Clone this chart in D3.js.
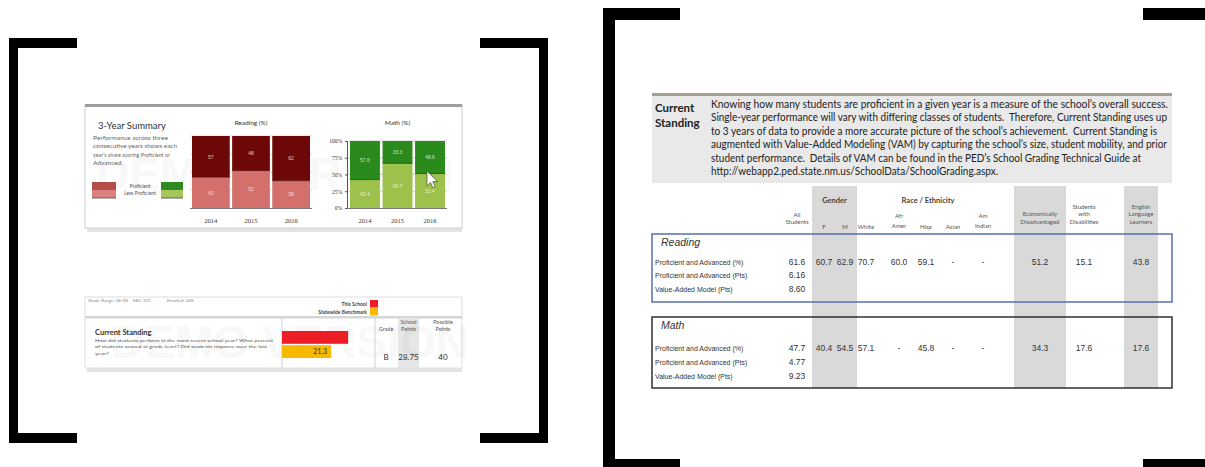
<!DOCTYPE html>
<html><head><meta charset="utf-8">
<script src="https://cdn.jsdelivr.net/npm/d3@7/dist/d3.min.js"></script>
<style>html,body{margin:0;padding:0;background:#fff;overflow:hidden}svg{display:block}</style>
</head><body>
<svg id="c" width="1205" height="467"></svg>
<script>
// ---- values ----
const years = ["2014", "2015", "2016"];
const readingProficient = [57, 48, 62];
const readingLessProficient = [43, 52, 38];
const mathProficient = [57.6, 33.3, 48.6];
const mathLessProficient = [42.4, 66.7, 51.4];
const mathTicks = [0, 25, 50, 75, 100];

const standingSeries = ["This School", "Statewide Benchmark"];
const standingPoints = [28.75, 21.3];
const standingGrade = "B";
const possiblePoints = 40;

const groupKeys = ["F", "M", "White", "AfrAmer", "Hisp", "Asian", "AmIndian", "EconDis", "SWD", "ELL"];
const groupHeaders = [["F"], ["M"], ["White"], ["Afr", "Amer"], ["Hisp"], ["Asian"], ["Am", "Indian"],
  ["Economically", "Disadvantaged"], ["Students", "with", "Disabilities"], ["English", "Language", "Learners"]];
const rowLabels = ["Proficient and Advanced (%)", "Proficient and Advanced (Pts)", "Value-Added Model (Pts)"];
const readingAllStudents = ["61.6", "6.16", "8.60"];
const readingByGroup = ["60.7", "62.9", "70.7", "60.0", "59.1", "-", "-", "51.2", "15.1", "43.8"];
const mathAllStudents = ["47.7", "4.77", "9.23"];
const mathByGroup = ["40.4", "54.5", "57.1", "-", "45.8", "-", "-", "34.3", "17.6", "17.6"];

const introLines = [
  "Knowing how many students are proficient in a given year is a measure of the school\u2019s overall success.",
  "Single-year performance will vary with differing classes of students.  Therefore, Current Standing uses up",
  "to 3 years of data to provide a more accurate picture of the school\u2019s achievement.  Current Standing is",
  "augmented with Value-Added Modeling (VAM) by capturing the school\u2019s size, student mobility, and prior",
  "student performance.  Details of VAM can be found in the PED\u2019s School Grading Technical Guide at",
  "http://webapp2.ped.state.nm.us/SchoolData/SchoolGrading.aspx."
];

const svg = d3.select("#c");
const SANS = "Lato, 'Open Sans', sans-serif";
const ARIAL = "'Liberation Sans', Arial, sans-serif";
const SERIF = "'Liberation Serif', serif";

// ---- frame brackets ----
const frame = svg.append("g").attr("fill", "#000");
[[9, 38, 9, 405], [9, 38, 68, 10], [9, 433, 68, 10],
 [539, 38, 9, 405], [480, 38, 68, 10], [480, 433, 68, 10],
 [603, 8, 12, 459], [603, 8, 77, 12], [603, 459, 77, 8],
 [1143, 8, 62, 12], [1143, 459, 62, 8]].forEach(([x, y, w, h]) =>
  frame.append("rect").attr("x", x).attr("y", y).attr("width", w).attr("height", h));

// ---- left: 3-year summary card ----
const card1 = svg.append("g");
card1.append("rect").attr("x", 87).attr("y", 228).attr("width", 375).attr("height", 4).attr("fill", "#e4e4e4");
card1.append("rect").attr("x", 85).attr("y", 105).attr("width", 377).attr("height", 123)
  .attr("fill", "#fff").attr("stroke", "#cdcdcd").attr("stroke-width", 1);
card1.append("rect").attr("x", 85).attr("y", 104).attr("width", 377).attr("height", 3).attr("fill", "#9c9c9c");
card1.append("text").attr("x", 275).attr("y", 190).attr("text-anchor", "middle")
  .attr("font-family", ARIAL).attr("font-weight", "bold").attr("font-size", 46)
  .attr("fill", "#000").attr("opacity", 0.022).text("DEMO VERSION");

card1.append("text").attr("x", 132).attr("y", 129).attr("text-anchor", "middle")
  .attr("font-family", SANS).attr("font-size", 9.5).attr("fill", "#333").text("3-Year Summary");
const summaryNote = ["Performance across three", "consecutive years shows each", "year\u2019s share scoring Proficient or", "Advanced."];
const noteW = [75, 84, 77, 30];
summaryNote.forEach((t, i) => card1.append("text").attr("x", 93).attr("y", 140 + i * 8.3)
  .attr("font-family", SANS).attr("font-size", 6).attr("fill", "#666")
  .attr("textLength", noteW[i]).attr("lengthAdjust", "spacingAndGlyphs").text(t));

// legend swatches
const lg = card1.append("g");
lg.append("rect").attr("x", 92).attr("y", 182).attr("width", 24).attr("height", 8).attr("fill", "#b44c4c");
lg.append("rect").attr("x", 92).attr("y", 190).attr("width", 24).attr("height", 8).attr("fill", "#dd8080");
lg.append("rect").attr("x", 161).attr("y", 182).attr("width", 22).attr("height", 8).attr("fill", "#2e8b22");
lg.append("rect").attr("x", 161).attr("y", 190).attr("width", 22).attr("height", 8).attr("fill", "#a4c65a");
lg.append("line").attr("x1", 161).attr("x2", 183).attr("y1", 198).attr("y2", 198).attr("stroke", "#444").attr("stroke-width", 0.8);
lg.append("line").attr("x1", 92).attr("x2", 116).attr("y1", 198).attr("y2", 198).attr("stroke", "#444").attr("stroke-width", 0.8);
lg.append("text").attr("x", 140).attr("y", 187.5).attr("text-anchor", "middle").attr("font-family", SANS)
  .attr("font-size", 5).attr("fill", "#555").text("Proficient");
lg.append("text").attr("x", 140).attr("y", 194.5).attr("text-anchor", "middle").attr("font-family", SANS)
  .attr("font-size", 5).attr("fill", "#555").text("Less Proficient");

function stackedChart(g, opts) {
  const rows = years.map((yr, i) => ({ year: yr, less: opts.less[i], prof: opts.prof[i] }));
  const series = d3.stack().keys(["less", "prof"])(rows);
  const x = d3.scaleBand().domain(years).range(opts.xr).paddingInner(opts.pad);
  const y = d3.scaleLinear().domain([0, 100]).range(opts.yr);
  // gridlines
  g.append("g").selectAll("line").data([25, 50, 75, 100]).join("line")
    .attr("x1", opts.xr[0] - 2).attr("x2", opts.xr[1] + 2)
    .attr("y1", d => y(d)).attr("y2", d => y(d)).attr("stroke", opts.grid).attr("stroke-width", 0.7);
  const colors = { less: opts.light, prof: opts.dark };
  series.forEach(s => {
    g.append("g").selectAll("rect").data(s).join("rect")
      .attr("x", d => x(d.data.year)).attr("width", x.bandwidth())
      .attr("y", d => y(d[1])).attr("height", d => y(d[0]) - y(d[1]))
      .attr("fill", colors[s.key]);
    g.append("g").selectAll("text").data(s).join("text")
      .attr("x", d => x(d.data.year) + x.bandwidth() / 2)
      .attr("y", d => (y(d[0]) + y(d[1])) / 2 + 2)
      .attr("text-anchor", "middle").attr("font-family", ARIAL).attr("font-size", 5)
      .attr("fill", "#fff").attr("opacity", 0.75)
      .text(d => opts.fmt(d.data[s.key]));
  });
  // split lines
  g.append("g").selectAll("line").data(series[0]).join("line")
    .attr("x1", d => x(d.data.year)).attr("x2", d => x(d.data.year) + x.bandwidth())
    .attr("y1", d => y(d[1])).attr("y2", d => y(d[1])).attr("stroke", opts.split).attr("stroke-width", 0.8);
  g.append("line").attr("x1", opts.xr[0] - 2).attr("x2", opts.xr[1] + 2)
    .attr("y1", y(0) + 0.5).attr("y2", y(0) + 0.5).attr("stroke", "#555").attr("stroke-width", 0.8);
  g.append("g").attr("transform", `translate(0,${y(0) + 2})`)
    .call(d3.axisBottom(x).tickSize(0).tickPadding(8))
    .call(a => a.select(".domain").remove())
    .selectAll("text").attr("font-family", SERIF).attr("font-size", 6.5).attr("fill", "#333");
  g.append("text").attr("x", (opts.xr[0] + opts.xr[1]) / 2).attr("y", 125).attr("text-anchor", "middle")
    .attr("font-family", SANS).attr("font-size", 6.5).attr("fill", "#333").text(opts.title);
  return y;
}

stackedChart(card1.append("g"), {
  prof: readingProficient, less: readingLessProficient, xr: [192, 310], yr: [208, 136], pad: 0.06,
  dark: "#6e0808", light: "#d4706c", split: "#5a0a0a", grid: "#c8c8c8", title: "Reading (%)", fmt: d3.format("d")
});
const mathG = card1.append("g");
const my = stackedChart(mathG, {
  prof: mathProficient, less: mathLessProficient, xr: [350, 445], yr: [208, 141], pad: 0.08,
  dark: "#2a8a1c", light: "#9dc24b", split: "#1c4a10", grid: "#b8b8b8", title: "Math (%)", fmt: d3.format(".1f")
});
mathG.append("g").attr("transform", "translate(347,0)")
  .call(d3.axisLeft(my).tickValues(mathTicks).tickSize(2).tickFormat(d => d + "%"))
  .call(a => a.select(".domain").attr("stroke", "#555"))
  .call(a => a.selectAll("line").attr("stroke", "#555"))
  .selectAll("text").attr("font-family", SERIF).attr("font-size", 5.5).attr("fill", "#333");
// pointer
card1.append("path").attr("d", "M427,171 L427,186 L430.5,182.5 L433,188 L435.2,187 L432.8,181.6 L437.5,181.6 Z")
  .attr("fill", "#fff").attr("stroke", "#333").attr("stroke-width", 0.6);

// ---- left: current standing card ----
const card2 = svg.append("g");
card2.append("rect").attr("x", 87).attr("y", 368).attr("width", 375).attr("height", 4).attr("fill", "#e4e4e4");
card2.append("rect").attr("x", 85).attr("y", 297).attr("width", 377).attr("height", 71)
  .attr("fill", "#fff").attr("stroke", "#dedede");
card2.append("rect").attr("x", 85).attr("y", 316).attr("width", 377).attr("height", 2.5).attr("fill", "#d6d6d6");
card2.append("rect").attr("x", 398).attr("y", 318.5).attr("width", 21).attr("height", 49.5).attr("fill", "#e6e6e6");
card2.append("text").attr("x", 290).attr("y", 358).attr("text-anchor", "middle")
  .attr("font-family", ARIAL).attr("font-weight", "bold").attr("font-size", 46)
  .attr("fill", "#000").attr("opacity", 0.022).text("DEMO VERSION");
[["Grade Range: 06-08", 88], ["FAY: 231", 133], ["Enrolled: 248", 167]].forEach(([t, x]) =>
  card2.append("text").attr("x", x).attr("y", 301.5).attr("font-family", SANS).attr("font-size", 4.5)
    .attr("fill", "#888").text(t));

const sx = d3.scaleLinear().domain([0, possiblePoints]).range([282, 374]);
const sy = d3.scaleBand().domain(standingSeries).range([331, 358]).paddingInner(0.1);
const standingColors = d3.scaleOrdinal().domain(standingSeries).range(["#ee1c24", "#f6b800"]);
// legend
standingSeries.forEach((s, i) => {
  card2.append("text").attr("x", 367).attr("y", 305.5 + i * 8.5).attr("text-anchor", "end")
    .attr("font-family", SANS).attr("font-weight", "bold").attr("font-size", 5).attr("fill", "#444").text(s);
  card2.append("rect").attr("x", 370).attr("y", 300 + i * 8).attr("width", 8).attr("height", 7.5)
    .attr("fill", standingColors(s));
});
card2.append("line").attr("x1", 282).attr("x2", 282).attr("y1", 318).attr("y2", 368).attr("stroke", "#d0d0d0");
card2.append("line").attr("x1", 375).attr("x2", 375).attr("y1", 318).attr("y2", 368).attr("stroke", "#d0d0d0");
card2.append("g").selectAll("rect").data(standingSeries).join("rect")
  .attr("x", sx(0)).attr("y", d => sy(d)).attr("height", sy.bandwidth())
  .attr("width", (d, i) => sx(standingPoints[i]) - sx(0)).attr("fill", d => standingColors(d));
card2.append("text").attr("x", sx(standingPoints[1]) - 4).attr("y", sy(standingSeries[1]) + sy.bandwidth() / 2 + 2.5)
  .attr("text-anchor", "end").attr("font-family", SANS).attr("font-size", 7).attr("fill", "#333")
  .text(standingPoints[1]);

card2.append("text").attr("x", 95).attr("y", 335).attr("font-family", SANS).attr("font-weight", "bold")
  .attr("font-size", 7.5).attr("fill", "#333").text("Current Standing");
["How did students perform in the most recent school year? What percent",
 "of students scored at grade level? Did students improve over the last",
 "year?"].forEach((t, i) => card2.append("text").attr("x", 95).attr("y", 342 + i * 6.3)
  .attr("font-family", SANS).attr("font-size", 4.6).attr("fill", "#555")
  .attr("textLength", [178, 172, 14][i]).attr("lengthAdjust", "spacingAndGlyphs").text(t));

card2.append("text").attr("x", 386).attr("y", 330.5).attr("text-anchor", "middle").attr("font-family", SANS)
  .attr("font-size", 5.5).attr("fill", "#555").text("Grade");
[["School", "Points", 408.5], ["Possible", "Points", 443]].forEach(([a, b, x]) => {
  card2.append("text").attr("x", x).attr("y", 324).attr("text-anchor", "middle").attr("font-family", SANS)
    .attr("font-size", 5.5).attr("fill", "#555").text(a);
  card2.append("text").attr("x", x).attr("y", 330.5).attr("text-anchor", "middle").attr("font-family", SANS)
    .attr("font-size", 5.5).attr("fill", "#555").text(b);
});
[[standingGrade, 386], [d3.format(".2f")(standingPoints[0]), 408.5], [possiblePoints, 443]].forEach(([t, x]) =>
  card2.append("text").attr("x", x).attr("y", 360).attr("text-anchor", "middle").attr("font-family", SANS)
    .attr("font-size", 8).attr("fill", "#333").text(t));

// ---- right: current standing detail ----
const rp = svg.append("g");
rp.append("rect").attr("x", 652).attr("y", 95).attr("width", 520).attr("height", 88).attr("fill", "#e9e9e9");
rp.append("rect").attr("x", 652).attr("y", 93).attr("width", 520).attr("height", 3).attr("fill", "#a69f97");
rp.append("text").attr("x", 655).attr("y", 112).attr("font-family", SANS).attr("font-weight", "bold")
  .attr("font-size", 11.5).attr("fill", "#222").text("Current");
rp.append("text").attr("x", 655).attr("y", 127).attr("font-family", SANS).attr("font-weight", "bold")
  .attr("font-size", 11.5).attr("fill", "#222").text("Standing");
const introW = [457, 456, 446, 456, 430, 287];
introLines.forEach((t, i) => rp.append("text").attr("x", 711).attr("y", 108 + i * 13.4)
  .attr("font-family", SANS).attr("font-size", 10.6).attr("fill", "#222")
  .attr("xml:space", "preserve")
  .attr("textLength", introW[i]).attr("lengthAdjust", "spacingAndGlyphs").text(t));

// column positions
const colX = d3.scaleOrdinal().domain(groupKeys).range([824, 845, 866, 899, 926, 953, 983, 1040, 1084, 1141]);
[[812, 857], [1014, 1066], [1124, 1158]].forEach(([x0, x1]) => rp.append("rect").attr("x", x0).attr("y", 186)
  .attr("width", x1 - x0).attr("height", 202).attr("fill", "#d9d9d9"));

rp.append("text").attr("x", (colX("F") + colX("M")) / 2).attr("y", 203).attr("text-anchor", "middle")
  .attr("font-family", SANS).attr("font-weight", "bold").attr("font-size", 7.5).attr("fill", "#444").text("Gender");
rp.append("text").attr("x", 928).attr("y", 203).attr("text-anchor", "middle")
  .attr("font-family", SANS).attr("font-weight", "bold").attr("font-size", 7.5).attr("fill", "#444").text("Race / Ethnicity");
[["All", 217], ["Students", 224]].forEach(([t, y]) => rp.append("text").attr("x", 797).attr("y", y)
  .attr("text-anchor", "middle").attr("font-family", SANS).attr("font-size", 6).attr("fill", "#555").text(t));
groupKeys.forEach((k, i) => {
  const lines = groupHeaders[i];
  const tall = ["AfrAmer", "AmIndian"].includes(k);
  const bottom = lines.length === 1 ? 228.5 : (tall ? 227.5 : 224);
  const step = tall ? 10 : 7.6;
  lines.forEach((t, j) => rp.append("text").attr("x", colX(k))
    .attr("y", bottom - (lines.length - 1 - j) * step).attr("text-anchor", "middle")
    .attr("font-family", SANS).attr("font-size", 6).attr("fill", "#555").text(t));
});

function subjectBlock(title, top, h, stroke, allVals, groupVals, rowYs) {
  const g = rp.append("g");
  g.append("rect").attr("x", 652).attr("y", top).attr("width", 520).attr("height", h)
    .attr("fill", "none").attr("stroke", stroke).attr("stroke-width", 1.4);
  g.append("text").attr("x", 661).attr("y", top + 12).attr("font-family", ARIAL).attr("font-style", "italic")
    .attr("font-size", 10.5).attr("fill", "#333").text(title);
  rowLabels.forEach((lab, r) => {
    g.append("text").attr("x", 655).attr("y", rowYs[r]).attr("font-family", ARIAL)
      .attr("font-size", 7).attr("fill", "#333").text(lab);
    g.append("text").attr("x", 797).attr("y", rowYs[r]).attr("text-anchor", "middle").attr("font-family", ARIAL)
      .attr("font-size", 8.5).attr("fill", "#333").text(allVals[r]);
  });
  g.append("g").selectAll("text").data(groupKeys).join("text")
    .attr("x", d => colX(d)).attr("y", rowYs[0]).attr("text-anchor", "middle")
    .attr("font-family", ARIAL).attr("font-size", 8.5).attr("fill", "#333")
    .text((d, i) => groupVals[i]);
}
subjectBlock("Reading", 234, 68, "#4a66aa", readingAllStudents, readingByGroup, [265, 278, 292]);
subjectBlock("Math", 317, 71, "#222", mathAllStudents, mathByGroup, [351, 365, 379]);
</script>
</body></html>
